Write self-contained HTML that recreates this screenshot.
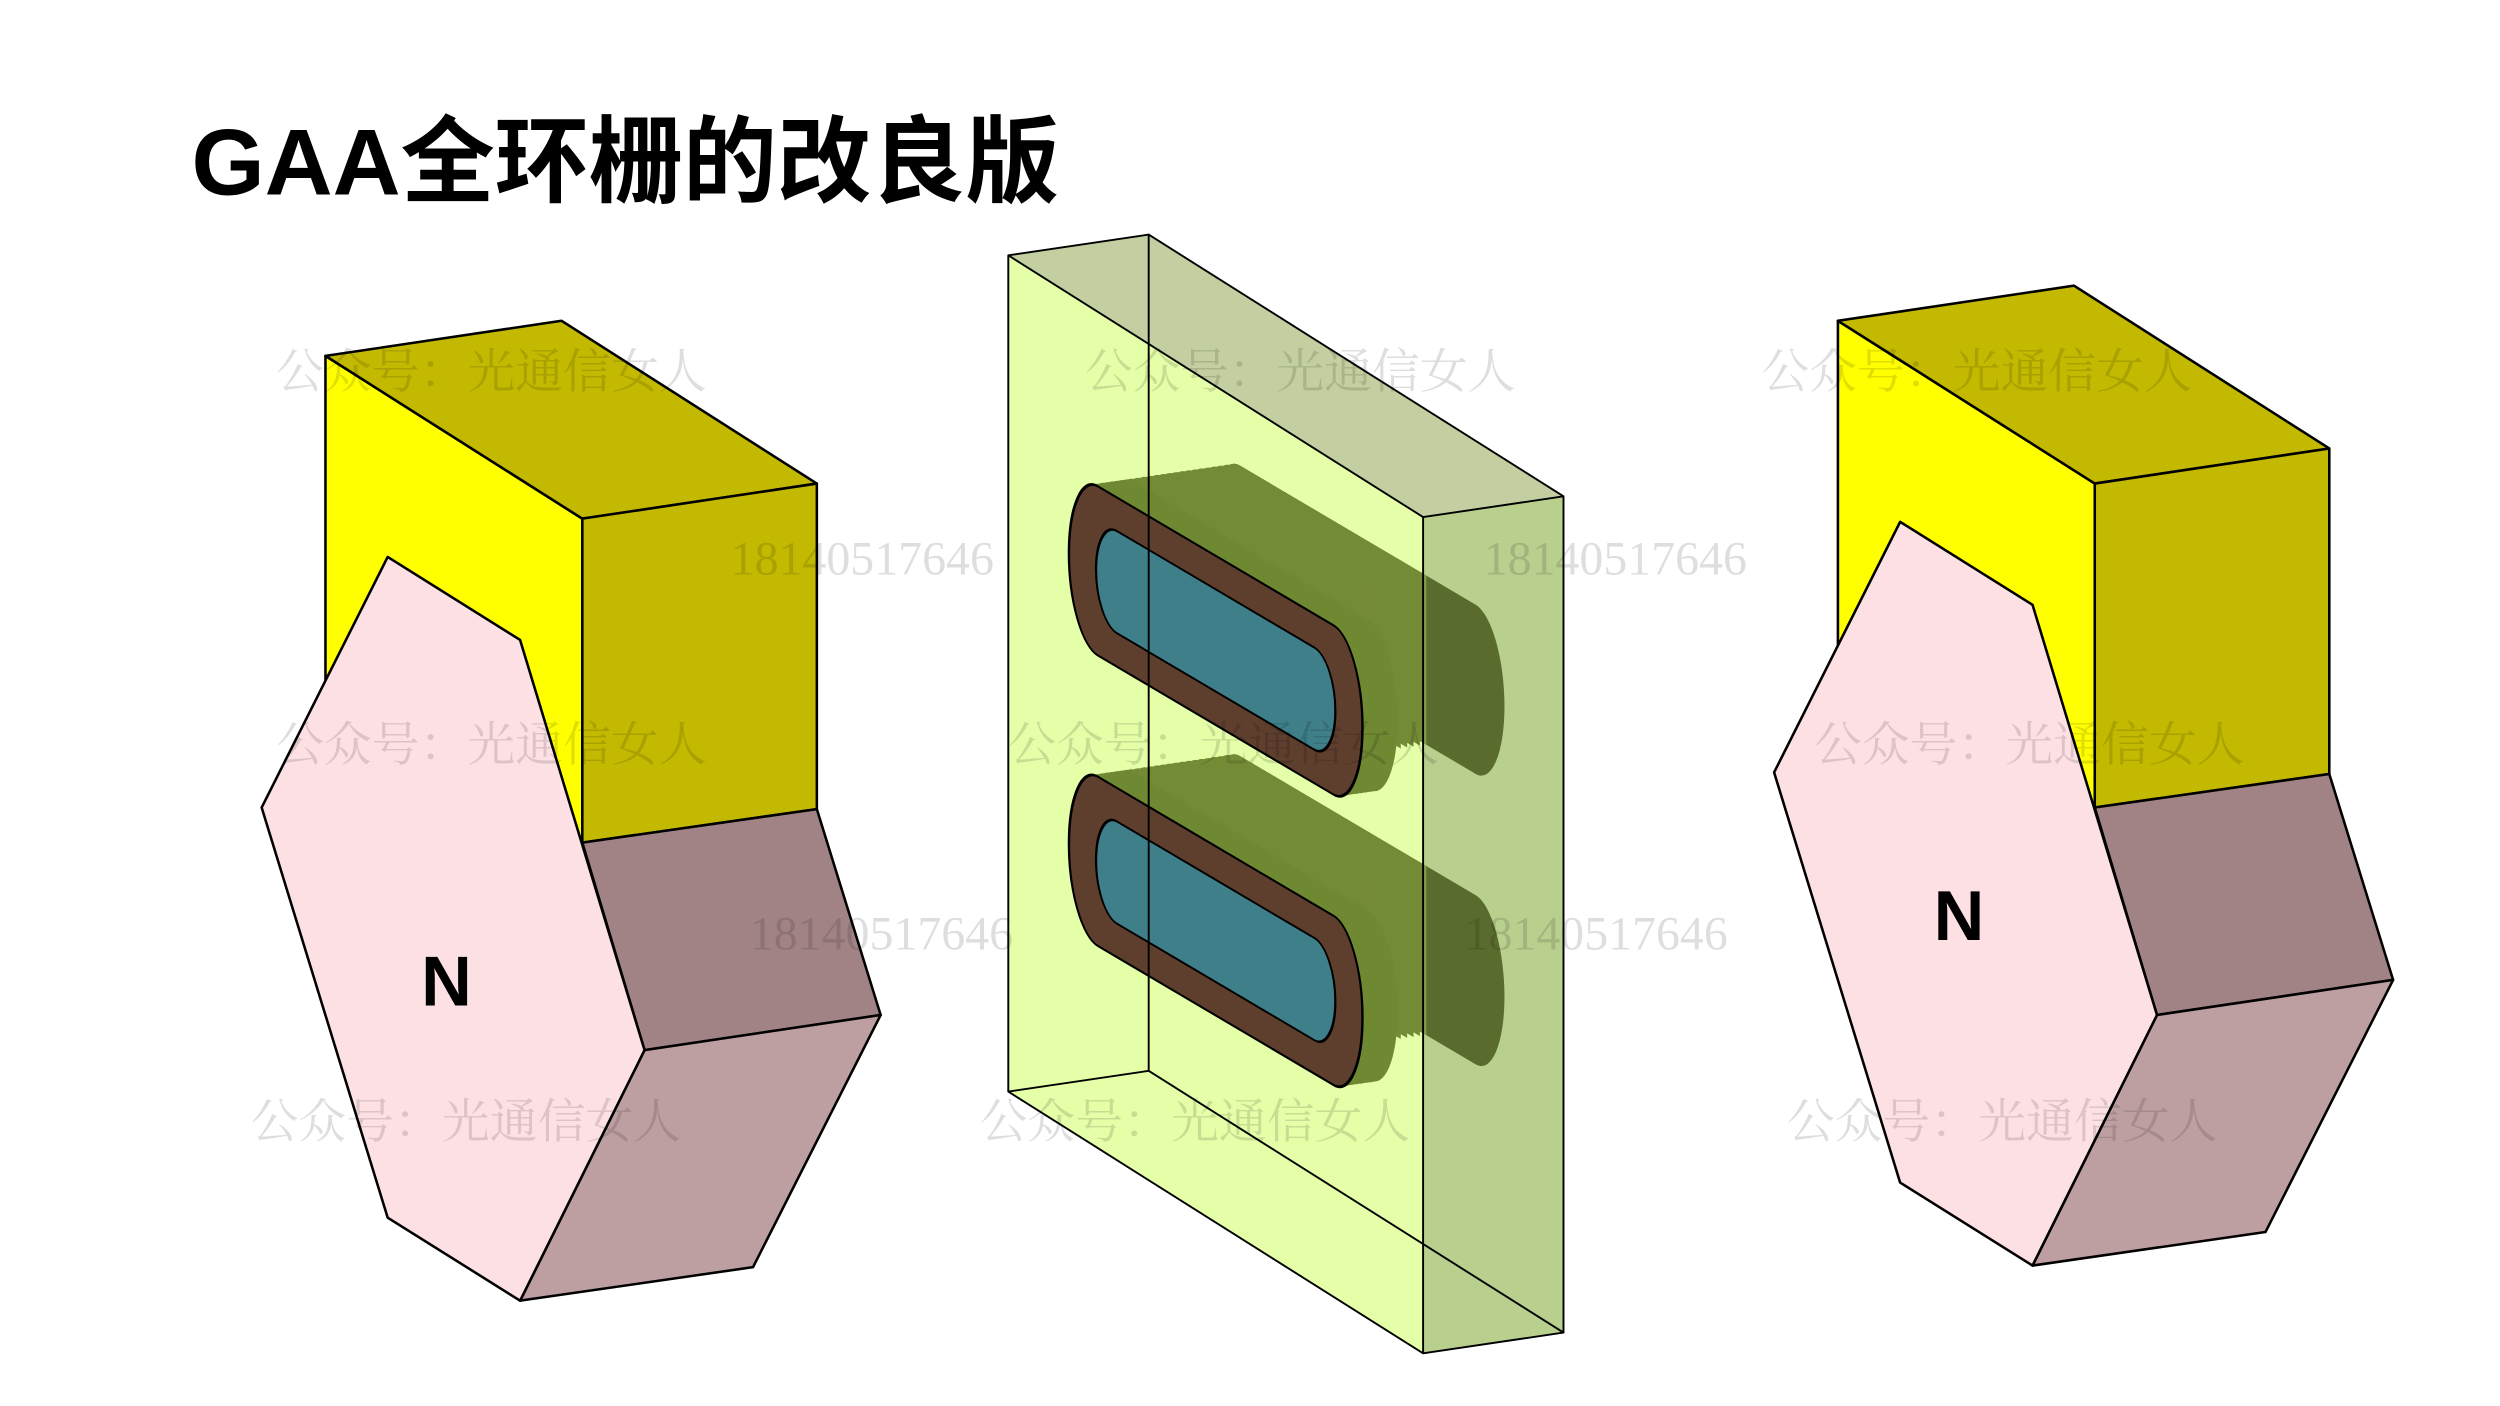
<!DOCTYPE html>
<html><head><meta charset="utf-8"><style>
html,body{margin:0;padding:0;background:#fff;}
svg{display:block;}
</style></head><body>
<svg width="2500" height="1406" viewBox="0 0 1567 881" preserveAspectRatio="none" xmlns="http://www.w3.org/2000/svg">
<rect width="1567" height="881" fill="#fff"/>
<text x="120" y="122" font-family="'Liberation Sans','Noto Sans CJK SC',sans-serif" font-weight="bold" font-size="59" fill="#000">GAA全环栅的改良版</text>

<defs>
<g id="blk" stroke="#000" stroke-width="1.6" stroke-linejoin="round">
  <polygon points="204,223 365,325 365,528 204,430" fill="#ffff00"/>
  <polygon points="204,223 352,201 512,303 365,325" fill="#c2b900"/>
  <polygon points="365,325 512,303 512,507 365,528" fill="#c2b900"/>
  <polygon points="365,528 512,507 552,636 404,658" fill="#a18386"/>
  <polygon points="404,658 552,636 472,794 326,815" fill="#bd9fa2"/>
  <polygon points="243,349 326,401 404,658 326,815 243,763 164,506" fill="#fde0e4"/>
</g>
<rect id="outer" x="0" y="0" width="184" height="106" rx="18" ry="53"/>
<clipPath id="leftpart"><rect x="-5" y="-5" width="140" height="120"/></clipPath>
<g id="half" clip-path="url(#leftpart)"><use href="#outer"/></g>
<g id="stad">
  <use href="#outer" transform="translate(89,-65.5)" fill="#3a4b0c"/>
  <g fill="#748b36">
    <use href="#half" transform="translate(89,-65.5)"/>
    <use href="#half" transform="translate(85,-62.6)"/>
    <use href="#half" transform="translate(81,-59.6)"/>
    <use href="#half" transform="translate(77,-56.7)"/>
    <use href="#half" transform="translate(73,-53.7)"/>
    <use href="#half" transform="translate(69,-50.8)"/>
    <use href="#half" transform="translate(65,-47.8)"/>
    <use href="#half" transform="translate(61,-44.9)"/>
    <use href="#half" transform="translate(57,-42)"/>
    <use href="#half" transform="translate(53,-39)"/>
    <use href="#half" transform="translate(49,-36.1)"/>
    <use href="#half" transform="translate(45,-33.1)"/>
    <use href="#half" transform="translate(41,-30.2)"/>
    <use href="#half" transform="translate(37,-27.2)"/>
    <use href="#half" transform="translate(33,-24.3)"/>
    <use href="#half" transform="translate(29,-21.3)"/>
    <use href="#half" transform="translate(25,-18.4)"/>
  </g>
  <g fill="#6f8832">
    <use href="#outer" transform="translate(22,-16.2)"/>
    <use href="#outer" transform="translate(19,-14)"/>
    <use href="#outer" transform="translate(16,-11.8)"/>
    <use href="#outer" transform="translate(13,-9.6)"/>
    <use href="#outer" transform="translate(10,-7.4)"/>
    <use href="#outer" transform="translate(7,-5.2)"/>
    <use href="#outer" transform="translate(4,-2.9)"/>
    <use href="#outer" transform="translate(1.5,-1.1)"/>
  </g>
  <use href="#outer" fill="#5e3f2e" stroke="#000" stroke-width="1.5"/>
  <rect x="17" y="21" width="150" height="64" rx="13" ry="32" fill="#3f7f89" stroke="#000" stroke-width="1.4"/>
</g>
</defs>

<use href="#blk"/>
<use href="#blk" transform="translate(948,-22)"/>

<!-- glass slab -->
<g stroke-linejoin="round">
  <polygon points="632,160 892,324 892,848 632,684" fill="#e4ffa8"/>
  <polygon points="632,160 720,147 980,311 892,324" fill="#c3cfa0"/>
  <polygon points="892,324 980,311 980,835 892,848" fill="#b9cf8e"/>
  <g transform="translate(670,294) matrix(1,0.59,0,1,0,0)"><use href="#stad"/></g>
  <g transform="translate(670,476) matrix(1,0.59,0,1,0,0)"><use href="#stad"/></g>
  <polygon points="892,324 980,311 980,835 892,848" fill="#b9cf8e" fill-opacity="0.25"/>
  <g fill="none" stroke="#000" stroke-width="1.2">
    <polyline points="720,147 720,671 980,835"/>
    <line x1="720" y1="671" x2="632" y2="684"/>
    <polygon points="632,160 720,147 980,311 980,835 892,848 632,684"/>
    <polyline points="632,160 892,324 980,311"/>
    <line x1="892" y1="324" x2="892" y2="848"/>
  </g>
</g>

<g font-family="'Liberation Sans',sans-serif" font-weight="bold" font-size="44" fill="#000">
  <text x="264" y="630">N</text>
  <text x="1212" y="589">N</text>
</g>

<g font-family="'Liberation Serif','Noto Serif CJK SC',serif" font-size="30" fill="#000" fill-opacity="0.13">
  <text x="173" y="243">公众号：光通信女人</text>
  <text x="680" y="243">公众号：光通信女人</text>
  <text x="1104" y="243">公众号：光通信女人</text>
  <text x="173" y="477">公众号：光通信女人</text>
  <text x="632" y="477">公众号：光通信女人</text>
  <text x="1137" y="477">公众号：光通信女人</text>
  <text x="157" y="713">公众号：光通信女人</text>
  <text x="614" y="713">公众号：光通信女人</text>
  <text x="1120" y="713">公众号：光通信女人</text>
  <text x="458" y="360">18140517646</text>
  <text x="930" y="360">18140517646</text>
  <text x="470" y="595">18140517646</text>
  <text x="918" y="595">18140517646</text>
</g>
</svg>
</body></html>
